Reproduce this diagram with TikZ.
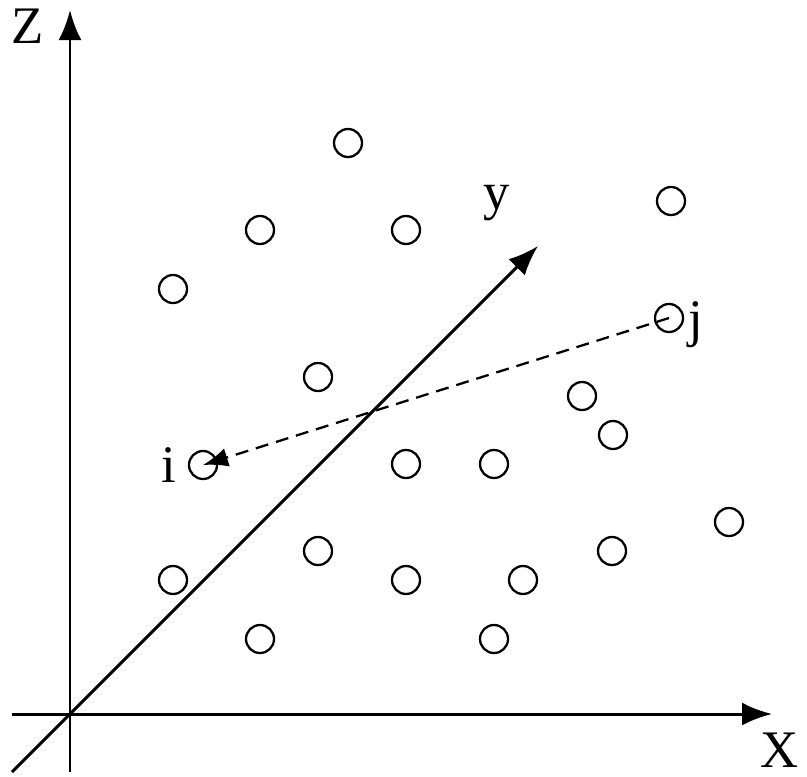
\documentclass[tikz,border=0pt]{standalone}
\usepackage{fontspec}
\setmainfont{Liberation Serif}
\usetikzlibrary{arrows.meta,positioning}

\begin{document}
\begin{tikzpicture}[
x=0.01cm, y=-0.01cm,
axis/.style={-{Latex[length=3mm,width=2.3mm]}, line width=0.85pt},
pt/.style={circle, draw, line width=0.65pt, minimum size=0.28cm, inner sep=0pt},
link/.style={-{Latex[length=2.5mm,width=1.9mm]}, line width=0.65pt, dash pattern=on 1.3mm off 0.8mm},
lab/.style={font=\fontsize{15}{15}\selectfont, inner sep=0pt}
]
\useasboundingbox (0,0) rectangle (807,776);

% axes
\coordinate (o) at (70,714);
\coordinate (zlo) at (70,772);
\coordinate (ztop) at (70,10);
\coordinate (xlo) at (12,714);
\coordinate (xtop) at (772,714);
\coordinate (ylo) at (12,772);
\coordinate (ytop) at (538,246);

\draw[axis] (zlo) -- (ztop);
\draw[axis] (xlo) -- (xtop);
\draw[axis] (ylo) -- (ytop);

\node[lab] (zlab) at (28,26) {Z};
\node[lab] (xlab) at (780,750) {X};
\node[lab] (ylab) at (497,203) {y};

% points
\foreach \n/\px/\py in {a/348/143, b/671/201, c/260/230, d/406/230, e/173/289,
  j/669/318, f/318/377, g/582/396, h/613/435, i/203/465, k/406/464, l/494/464,
  m/729/522, n/318/551, p/612/551, q/173/580, r/406/580, s/523/580,
  t/260/639, u/494/639}
  \node[pt] (p\n) at (\px,\py) {};

\node[lab, left=3pt of pi] (ilab) {i};
\node[lab, right=1pt of pj, yshift=-2pt] (jlab) {j};

% link j -> i
\draw[link] (pj.center) -- (pi.center);

\end{tikzpicture}
\end{document}
